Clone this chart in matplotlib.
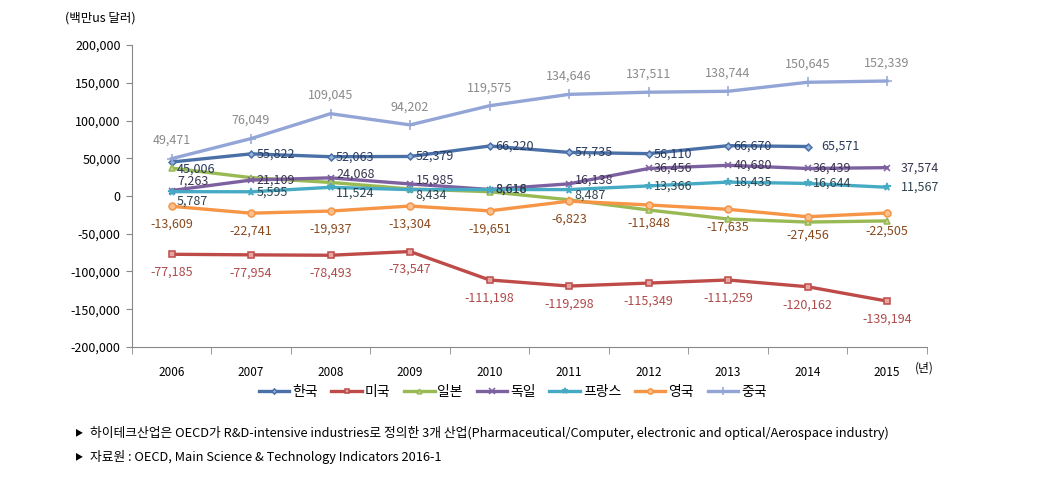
import matplotlib.pyplot as plt
import numpy as np
from matplotlib.ticker import FuncFormatter

plt.rcParams['font.family'] = ['Noto Sans CJK KR', 'DejaVu Sans']

years = ['2006', '2007', '2008', '2009', '2010', '2011', '2012', '2013', '2014', '2015']
names = ['한국', '미국', '일본', '독일', '프랑스', '영국', '중국']

korea = [45006, 55822, 52063, 52379, 66220, 57735, 56110, 66670, 65571, np.nan]
usa = [-77185, -77954, -78493, -73547, -111198, -119298, -115349, -111259, -120162, -139194]
japan = [37000, 24300, 18000, 9300, 5700, -5000, -18500, -30500, -34500, -33000]
germany = [7263, 21109, 24068, 15985, 8616, 16138, 36456, 40680, 36439, 37574]
france = [5787, 5595, 11524, 8434, 8618, 8487, 13366, 18435, 16644, 11567]
uk = [-13609, -22741, -19937, -13304, -19651, -6823, -11848, -17635, -27456, -22505]
china = [49471, 76049, 109045, 94202, 119575, 134646, 137511, 138744, 150645, 152339]

series = [korea, usa, japan, germany, france, uk, china]
colors = ['#4A70A8', '#BE4B48', '#98B954', '#7D60A0', '#46AAC5', '#F59545', '#92A5D6']
faces = ['#9AB5DA', '#E5A5A3', '#C3D69B', '#7D60A0', '#46AAC5', '#FAC08F', '#92A5D6']
markers = ['D', 's', '^', 'x', '*', 'o', '+']
msizes = [3.5, 4.5, 4.5, 5, 5.5, 5, 7]
label_colors = ['#2A3A5C', '#B04A4A', None, '#3A3350', '#2F4450', '#8A4A1E', '#8A8A8A']

fig = plt.figure(figsize=(10.46, 4.79), dpi=100)
ax = fig.add_axes([0.126, 0.2756, 0.76, 0.6304])
x = np.arange(len(years))

for i, vals in enumerate(series):
    ax.plot(x, vals, color=colors[i], lw=2.4, marker=markers[i], ms=msizes[i],
            mfc=faces[i], mec=colors[i], mew=1.1, label=names[i], zorder=3)

fmt = lambda v: f'{v:,.0f}'
fs = 9

# China: above
for xi, v in zip(x, china):
    ax.annotate(fmt(v), (xi, v), xytext=(0, 13), textcoords='offset points',
                ha='center', va='center', fontsize=fs, color=label_colors[6])
# USA, UK: below
for xi, v in zip(x, usa):
    ax.annotate(fmt(v), (xi, v), xytext=(0, -13), textcoords='offset points',
                ha='center', va='center', fontsize=fs, color=label_colors[1])
for xi, v in zip(x, uk):
    ax.annotate(fmt(v), (xi, v), xytext=(0, -13), textcoords='offset points',
                ha='center', va='center', fontsize=fs, color=label_colors[5])
# Korea, Germany, France: right
for idx, data in [(0, korea), (3, germany), (4, france)]:
    for xi, v in zip(x, data):
        if np.isnan(v):
            continue
        dy = 0
        dx = 4
        if xi == 0:
            dy = {0: -5, 3: 7, 4: -7}[idx]
        if xi in (2, 3, 5):
            if idx == 3:
                dy = 3
            if idx == 4:
                dy = -4
        if idx == 0 and xi == 8:
            dx = 10
        if idx in (3, 4) and xi == 9:
            dx = 10
        ax.annotate(fmt(v), (xi, v), xytext=(dx, dy), textcoords='offset points',
                    ha='left', va='center', fontsize=fs, color=label_colors[idx])

ax.set_xlim(-0.5, 9.5)
ax.set_ylim(-200000, 200000)
ax.set_yticks(np.arange(-200000, 200001, 50000))
ax.yaxis.set_major_formatter(FuncFormatter(lambda v, p: f'{v:,.0f}'))
ax.set_xticks(x)
ax.set_xticklabels(years)
ax.set_xticks(np.arange(-0.5, 10, 1), minor=True)
ax.tick_params(axis='x', which='major', length=0, pad=14, labelsize=8.5)
ax.tick_params(axis='x', which='minor', length=5, color='#888888')
ax.tick_params(axis='y', length=4, color='#888888', labelsize=9, pad=4)

for s in ['top', 'right']:
    ax.spines[s].set_visible(False)
ax.spines['left'].set_color('#888888')
ax.spines['bottom'].set_color('#888888')

fig.text(0.875, 0.232, '(년)', fontsize=8.5, ha='left', va='center')
fig.text(0.062, 0.962, '(백만us 달러)', fontsize=9, ha='left', va='center')

fig.legend(loc='center', bbox_to_anchor=(0.49, 0.182), ncol=7, frameon=False,
           fontsize=10, handlelength=2.2, handletextpad=0.2, columnspacing=1.0,
           markerscale=0.75)

notes = ['하이테크산업은 OECD가 R&D-intensive industries로 정의한 3개 산업(Pharmaceutical/Computer, electronic and optical/Aerospace industry)',
         '자료원 : OECD, Main Science & Technology Indicators 2016-1']
for yy, note in zip([0.096, 0.046], notes):
    fig.text(0.072, yy, '▶', fontsize=6, ha='left', va='center')
    fig.text(0.086, yy, note, fontsize=9.2, ha='left', va='center')

fig.savefig('out.png', dpi=100)
